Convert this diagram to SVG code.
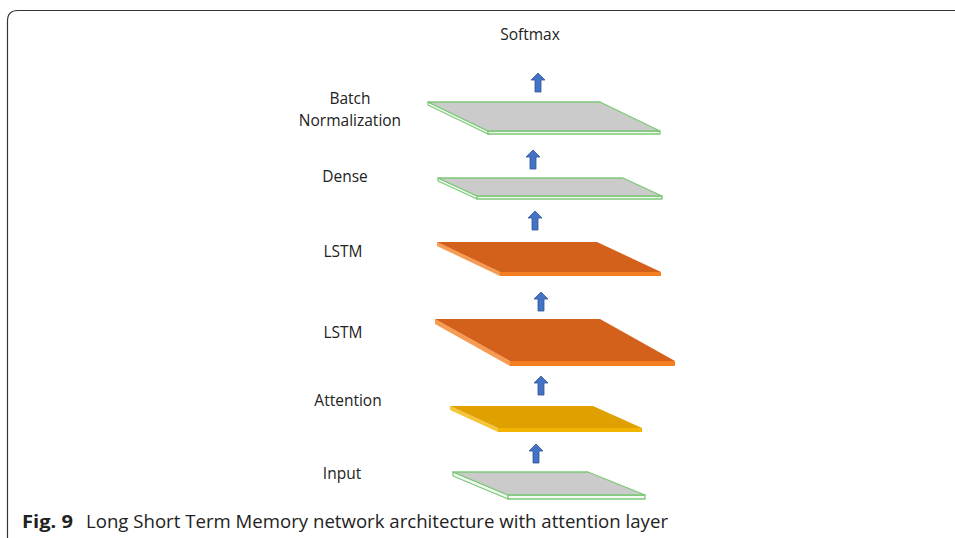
<svg xmlns="http://www.w3.org/2000/svg" xmlns:xlink="http://www.w3.org/1999/xlink" width="955" height="538" viewBox="0 0 955 538">
<style>
  .lbl { font-family: "Open Sans", "Liberation Sans", sans-serif; font-size: 15.5px; fill: #222; text-anchor: middle; }
  .gtop { fill: #cbcbcb; stroke: #7cc977; stroke-width: 1.3; stroke-linejoin: round; }
  .gside { fill: #f4f9f3; stroke: #7cc977; stroke-width: 1.3; stroke-linejoin: round; }
  .otop { fill: #d4611b; }
  .ofront { fill: #f47e22; }
  .oleft { fill: #f79a52; }
  .ytop { fill: #e0a000; }
  .yfront { fill: #f2b400; }
  .yleft { fill: #f6c63a; }
  .arrow { fill: #4472c4; stroke: #2f5597; stroke-width: 0.8; }
  .cap { font-family: "Open Sans", "Liberation Sans", sans-serif; font-size: 18.5px; fill: #222; }
</style>
<defs>
  <path id="arr" d="M0,0 L7,7 L3,7 L3,19 L-3,19 L-3,7 L-7,7 Z"/>
</defs>
<rect width="955" height="538" fill="#ffffff"/>
<path d="M7.5,538 L7.5,21 Q7.5,10.5 18,10.5 L955,10.5" fill="none" stroke="#333" stroke-width="1.2"/>

<g id="softmax">
  <text class="lbl" x="530" y="40">Softmax</text>
</g>

<g id="batchnorm">
  <polygon class="gside" points="428,102 488,131 488,134 428,105"/>
  <polygon class="gside" points="488,131 660,131 660,134 488,134"/>
  <polygon class="gtop" points="428,102 600,102 660,131 488,131"/>
  <text class="lbl" x="350" y="104">Batch</text>
  <text class="lbl" x="350" y="126">Normalization</text>
</g>

<g id="dense">
  <polygon class="gside" points="438,178 477,196 477,199 438,181"/>
  <polygon class="gside" points="477,196 662,196 662,199 477,199"/>
  <polygon class="gtop" points="438,178 623,178 662,196 477,196"/>
  <text class="lbl" x="345" y="182">Dense</text>
</g>

<g id="lstm1">
  <polygon class="oleft" points="437,242 500,272 500,276 437,246"/>
  <polygon class="ofront" points="500,272 661,272 661,276 500,276"/>
  <polygon class="otop" points="437,242 597,242 661,272 500,272"/>
  <text class="lbl" x="343" y="257">LSTM</text>
</g>

<g id="lstm2">
  <polygon class="oleft" points="435,319 510,361 510,366 435,324"/>
  <polygon class="ofront" points="510,361 675,361 675,366 510,366"/>
  <polygon class="otop" points="435,319 600,319 675,361 510,361"/>
  <text class="lbl" x="343" y="338">LSTM</text>
</g>

<g id="attention">
  <polygon class="yleft" points="450,406 498,428 498,432 450,410"/>
  <polygon class="yfront" points="498,428 642,428 642,432 498,432"/>
  <polygon class="ytop" points="450,406 593,406 642,428 498,428"/>
  <text class="lbl" x="348" y="406">Attention</text>
</g>

<g id="input">
  <polygon class="gside" points="453,472 508,495 508,499 453,476"/>
  <polygon class="gside" points="508,495 645,495 645,499 508,499"/>
  <polygon class="gtop" points="453,472 588,472 645,495 508,495"/>
  <text class="lbl" x="342" y="479">Input</text>
</g>

<g id="connectors">
  <use xlink:href="#arr" class="arrow" transform="translate(538,73)"/>
  <use xlink:href="#arr" class="arrow" transform="translate(533,150)"/>
  <use xlink:href="#arr" class="arrow" transform="translate(535,211)"/>
  <use xlink:href="#arr" class="arrow" transform="translate(541,292)"/>
  <use xlink:href="#arr" class="arrow" transform="translate(541,376)"/>
  <use xlink:href="#arr" class="arrow" transform="translate(536,444)"/>
</g>

<g id="caption">
  <text class="cap" x="22" y="528"><tspan font-weight="bold" textLength="51" lengthAdjust="spacingAndGlyphs">Fig. 9</tspan><tspan x="86" textLength="582" lengthAdjust="spacingAndGlyphs">Long Short Term Memory network architecture with attention layer</tspan></text>
</g>
</svg>
